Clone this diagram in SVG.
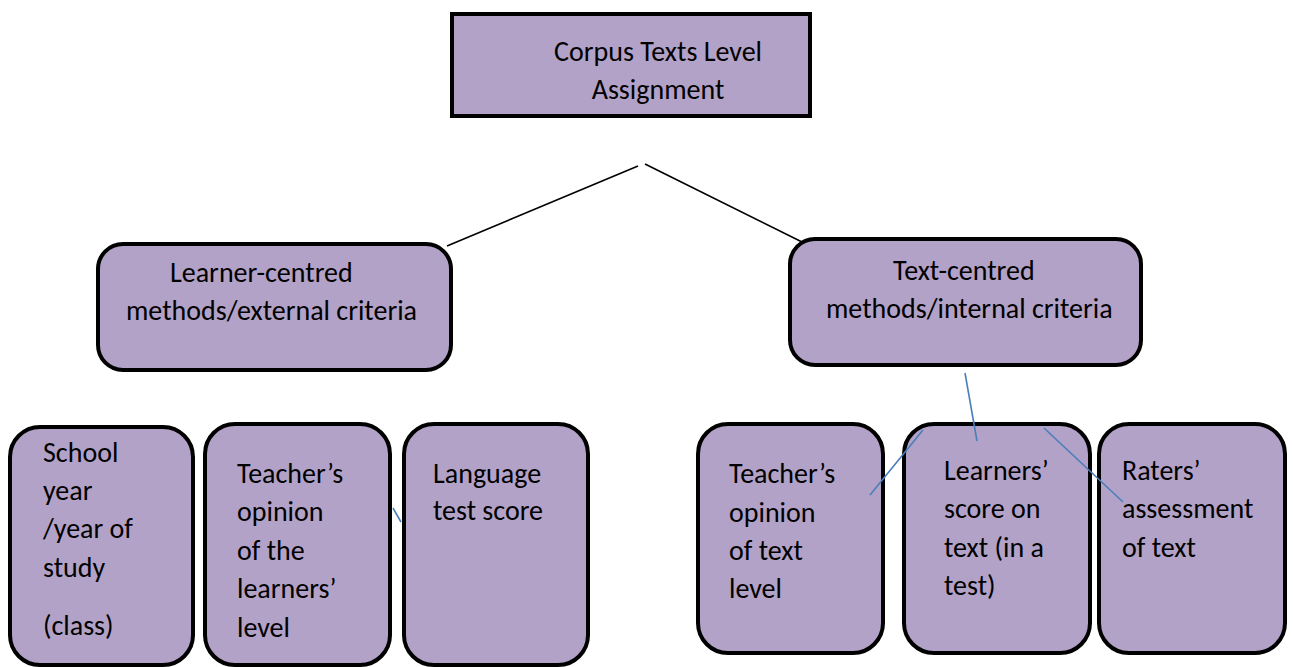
<svg xmlns="http://www.w3.org/2000/svg" width="1293" height="667" viewBox="0 0 1293 667">
<style>
.box{fill:#b3a2c7;stroke:#000;stroke-width:4}
.t{font-family:Carlito,Lato,"Liberation Sans",sans-serif;font-size:28px;fill:#000}
.k{stroke:#000;stroke-width:1.6;fill:none}
.b{stroke:#4a7ebb;stroke-width:1.6;fill:none}
</style>
<rect width="1293" height="667" fill="#fff"/>
<g id="root">
<rect class="box" x="452" y="14" width="358" height="102"/>
<text class="t" x="658" y="61" text-anchor="middle">Corpus Texts Level</text>
<text class="t" x="658" y="99" text-anchor="middle">Assignment</text>
</g>
<g id="learner-centred">
<rect class="box" x="98" y="244" width="353" height="126" rx="25"/>
<text class="t" x="170" y="282">Learner-centred</text>
<text class="t" x="126" y="320">methods/external criteria</text>
</g>
<g id="text-centred">
<rect class="box" x="790" y="239" width="351" height="126" rx="25"/>
<text class="t" x="893" y="280">Text-centred</text>
<text class="t" x="826" y="318">methods/internal criteria</text>
</g>
<g id="school-year">
<rect class="box" x="10" y="427" width="183" height="238" rx="30"/>
<text class="t" x="43" y="462">School</text>
<text class="t" x="43" y="500">year</text>
<text class="t" x="43" y="538">/year of</text>
<text class="t" x="43" y="577">study</text>
<text class="t" x="43" y="635">(class)</text>
</g>
<g id="teacher-opinion-learners">
<rect class="box" x="205" y="424" width="185" height="241" rx="30"/>
<text class="t" x="237" y="483">Teacher’s</text>
<text class="t" x="237" y="521">opinion</text>
<text class="t" x="237" y="560">of the</text>
<text class="t" x="237" y="598">learners’</text>
<text class="t" x="237" y="637">level</text>
</g>
<g id="language-test">
<rect class="box" x="404" y="424" width="184" height="241" rx="30"/>
<text class="t" x="433" y="483">Language</text>
<text class="t" x="433" y="520">test score</text>
</g>
<g id="teacher-opinion-text">
<rect class="box" x="698" y="424" width="185" height="229" rx="30"/>
<text class="t" x="729" y="483">Teacher’s</text>
<text class="t" x="729" y="522">opinion</text>
<text class="t" x="729" y="560">of text</text>
<text class="t" x="729" y="598">level</text>
</g>
<g id="learners-score">
<rect class="box" x="904" y="424" width="186" height="229" rx="30"/>
<text class="t" x="944" y="480">Learners’</text>
<text class="t" x="944" y="518">score on</text>
<text class="t" x="944" y="557">text (in a</text>
<text class="t" x="944" y="595">test)</text>
</g>
<g id="raters-assessment">
<rect class="box" x="1099" y="424" width="186" height="229" rx="30"/>
<text class="t" x="1122" y="480">Raters’</text>
<text class="t" x="1122" y="518">assessment</text>
<text class="t" x="1122" y="557">of text</text>
</g>
<g id="connectors">
<line class="k" x1="638" y1="166" x2="447" y2="246"/>
<line class="k" x1="645" y1="164" x2="802" y2="242"/>
<line class="b" x1="965" y1="373" x2="977" y2="441"/>
<line class="b" x1="870" y1="495" x2="923" y2="430"/>
<line class="b" x1="1044" y1="428" x2="1123" y2="502"/>
<line class="b" x1="393" y1="508" x2="401" y2="522"/>
</g>
</svg>
